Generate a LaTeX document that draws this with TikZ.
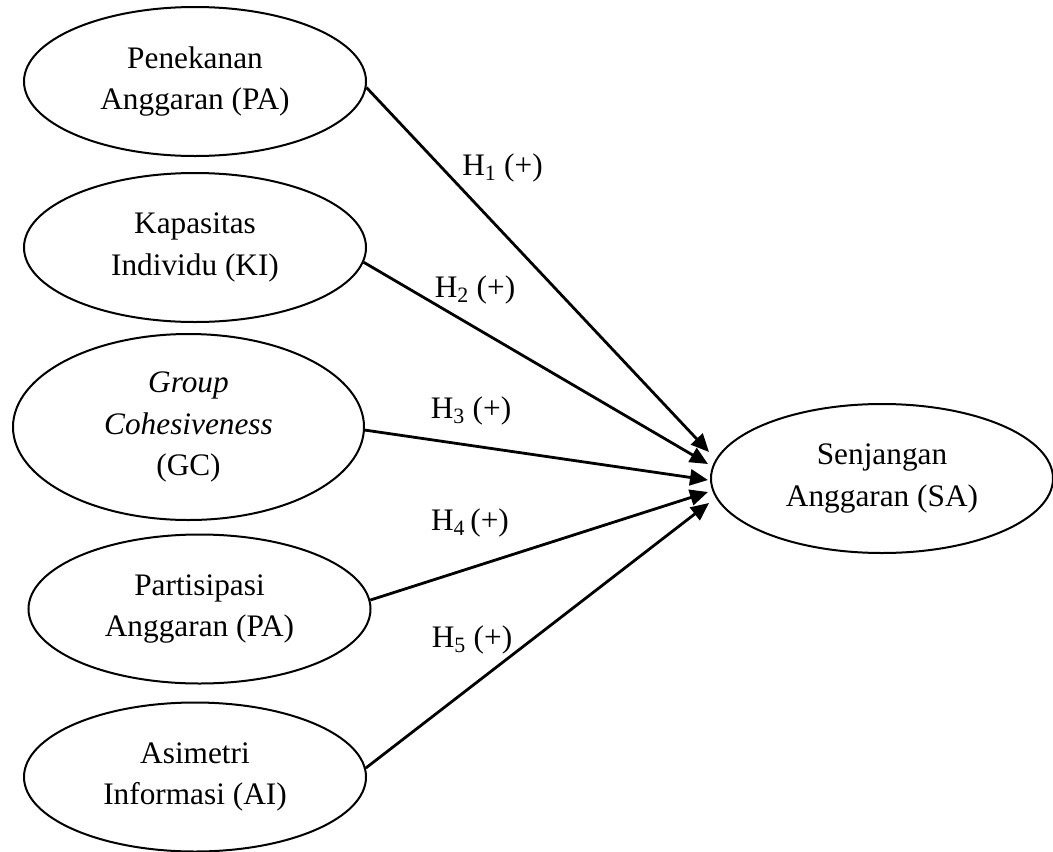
\documentclass[tikz,border=0pt]{standalone}
\usepackage{fontspec}
\setmainfont{Liberation Serif}
\usetikzlibrary{shapes.geometric,arrows.meta}
\begin{document}
\begin{tikzpicture}[x=1pt,y=-1pt,
  var/.style={ellipse, draw, line width=2pt, inner sep=0pt, minimum width=342pt, minimum height=149pt, align=center, font=\fontsize{31.3}{41.5}\selectfont},
  arr/.style={line width=2.8pt, -{Triangle[length=18pt,width=16pt]}},
  hyp/.style={anchor=base, font=\fontsize{31.3}{36}\selectfont, inner sep=0pt}]
\useasboundingbox (0,0) rectangle (1053,852);
\node[var] (pa) at (195,81.5) {Penekanan\\Anggaran (PA)};
\node[var] (ki) at (195,247.5) {Kapasitas\\Individu (KI)};
\node[var, minimum width=351pt, minimum height=186pt] (gc) at (188.5,427) {\textit{Group}\\\textit{Cohesiveness}\\(GC)};
\node[var] (pp) at (199.5,609) {Partisipasi\\Anggaran (PA)};
\node[var] (ai) at (195,777) {Asimetri\\Informasi (AI)};
\node[var] (sa) at (882,478.5) {Senjangan\\Anggaran (SA)};
\draw[arr] (pa.-2) -- ([xshift=-1pt,yshift=26.5pt]sa.west);
\draw[arr] (ki.-5.3) -- ([xshift=-2pt,yshift=14.5pt]sa.west);
\draw[arr] (gc.-1.6) -- ([xshift=-2pt,yshift=-1.5pt]sa.west);
\draw[arr] (pp.3) -- ([xshift=-2pt,yshift=-13.5pt]sa.west);
\draw[arr] (ai.3.4) -- ([xshift=-1pt,yshift=-24.5pt]sa.west);
\node[hyp] (h1) at (502.5,175) {H\textsubscript{1} (+)};
\node[hyp] (h2) at (475,297) {H\textsubscript{2} (+)};
\node[hyp] (h3) at (471,418) {H\textsubscript{3} (+)};
\node[hyp] (h4) at (470,530) {H\textsubscript{4}\,(+)};
\node[hyp] (h5) at (472,647) {H\textsubscript{5} (+)};
\end{tikzpicture}
\end{document}
